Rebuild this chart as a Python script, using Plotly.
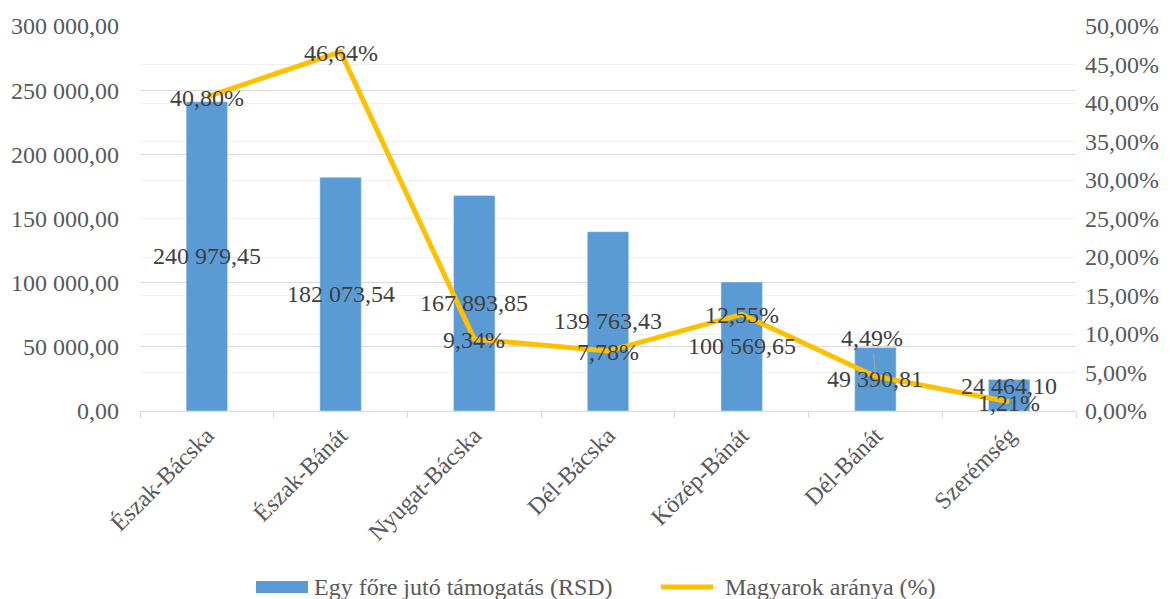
import plotly.graph_objects as go

categories = ["Észak-Bácska", "Észak-Bánát", "Nyugat-Bácska", "Dél-Bácska", "Közép-Bánát", "Dél-Bánát", "Szerémség"]
support_rsd = [240979.45, 182073.54, 167893.85, 139763.43, 100569.65, 49390.81, 24464.10]
hungarian_share = [0.4080, 0.4664, 0.0934, 0.0778, 0.1255, 0.0449, 0.0121]
left_ticks = [0, 50000, 100000, 150000, 200000, 250000, 300000]
right_ticks = [0, 0.05, 0.10, 0.15, 0.20, 0.25, 0.30, 0.35, 0.40, 0.45, 0.50]
series_names = ["Egy főre jutó támogatás (RSD)", "Magyarok aránya (%)"]

FONT = "Times New Roman, Liberation Serif, DejaVu Serif, serif"
BLUE = "#5B9BD5"
GOLD = "#FFC000"
TICK_COL = "#595959"
LABEL_COL = "#404040"
FS = 24

W, H = 1174, 599
ML, MR, MT, MB = 140, 98, 26, 188
PW, PH = W - ML - MR, H - MT - MB

def px_x(p):
    return (p - ML) / PW

def px_y(p):
    return (H - MB - p) / PH

def fmt_num(v):
    s = f"{v:,.2f}"
    return s.replace(",", " ").replace(".", ",")

def fmt_pct(v):
    return f"{v*100:.2f}".replace(".", ",") + "%"

fig = go.Figure()
fig.add_trace(go.Bar(
    x=categories, y=support_rsd, name=series_names[0],
    marker=dict(color=BLUE), yaxis="y", showlegend=False, hoverinfo="skip",
))
fig.add_trace(go.Scatter(
    x=categories, y=hungarian_share, name=series_names[1],
    mode="lines", line=dict(color=GOLD, width=5), yaxis="y2", showlegend=False,
    hoverinfo="skip",
))

annotations = []
for i, (c, v) in enumerate(zip(categories, support_rsd)):
    yy = v / 2
    if i == len(categories) - 1:
        yy = v / 2 + 7000
    annotations.append(dict(x=c, y=yy, xref="x", yref="y", text=fmt_num(v), showarrow=False,
                            font=dict(family=FONT, size=FS, color=LABEL_COL)))
for i, (c, v) in enumerate(zip(categories, hungarian_share)):
    if c == "Dél-Bánát":
        annotations.append(dict(x=c, y=v, xref="x", yref="y2", text=fmt_pct(v), showarrow=True,
                                arrowhead=0, arrowwidth=1, arrowcolor="#a6a6a6", ax=-3, ay=-38,
                                standoff=0,
                                font=dict(family=FONT, size=FS, color=LABEL_COL)))
    else:
        annotations.append(dict(x=c, y=v, xref="x", yref="y2", text=fmt_pct(v), showarrow=False,
                                yshift=-1,
                                font=dict(family=FONT, size=FS, color=LABEL_COL)))

# manual legend
annotations.append(dict(x=px_x(312), y=px_y(587), xref="paper", yref="paper", xanchor="left",
                        yanchor="middle", text=series_names[0], showarrow=False,
                        font=dict(family=FONT, size=FS, color=TICK_COL)))
annotations.append(dict(x=px_x(723), y=px_y(587), xref="paper", yref="paper", xanchor="left",
                        yanchor="middle", text=series_names[1], showarrow=False,
                        font=dict(family=FONT, size=FS, color=TICK_COL)))
shapes = [
    dict(type="rect", xref="paper", yref="paper", x0=px_x(256), x1=px_x(308),
         y0=px_y(593), y1=px_y(581), fillcolor=BLUE, line=dict(width=0)),
    dict(type="line", xref="paper", yref="paper", x0=px_x(661), x1=px_x(713),
         y0=px_y(587), y1=px_y(587), line=dict(color=GOLD, width=5)),
]

fig.update_layout(
    width=W, height=H,
    margin=dict(l=ML, r=MR, t=MT, b=MB, autoexpand=False),
    paper_bgcolor="white", plot_bgcolor="white",
    separators=", ",
    bargap=0.69,
    showlegend=False,
    font=dict(family=FONT, size=FS, color=TICK_COL),
    xaxis=dict(
        showline=True, linecolor="#d9d9d9", linewidth=1,
        ticks="outside", tickson="boundaries", ticklen=6, tickcolor="#d9d9d9",
        tickangle=-45, tickfont=dict(family=FONT, size=FS, color=TICK_COL),
        showgrid=False, automargin=False,
    ),
    yaxis=dict(
        range=[0, 300000], tickvals=left_ticks, tickformat=",.2f",
        showgrid=True, gridcolor="#d9d9d9", gridwidth=1, zeroline=False,
        showline=False, ticks="", ticklabelstandoff=20, automargin=False,
        tickfont=dict(family=FONT, size=FS, color=TICK_COL),
    ),
    yaxis2=dict(
        range=[0, 0.50], tickvals=right_ticks, tickformat=".2%",
        overlaying="y", side="right",
        showgrid=True, gridcolor="#f0f0f0", gridwidth=1, zeroline=False,
        showline=False, ticks="", ticklabelstandoff=8, automargin=False,
        tickfont=dict(family=FONT, size=FS, color=TICK_COL),
    ),
    annotations=annotations,
    shapes=shapes,
)

fig.write_html("out.html", config={"displayModeBar": False},
               post_script="document.body.style.margin='0';")
